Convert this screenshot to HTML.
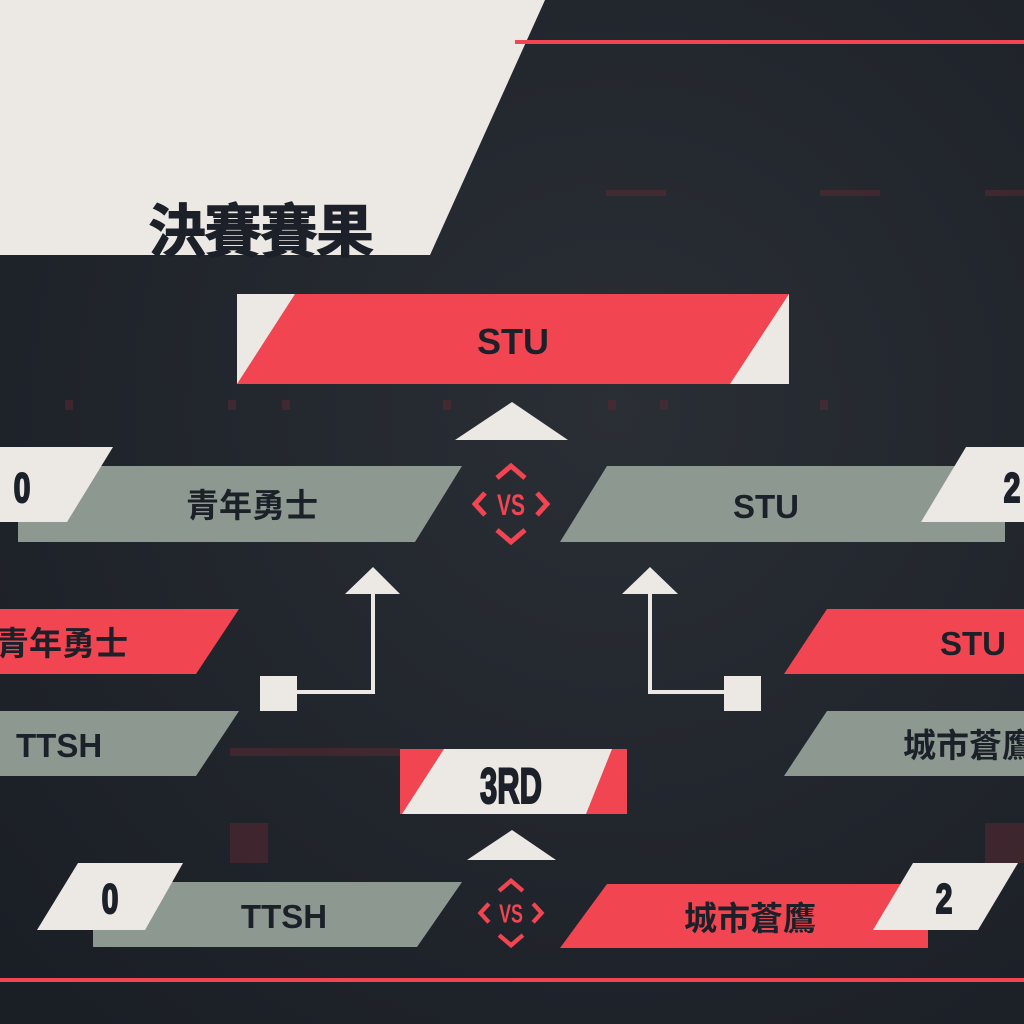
<!DOCTYPE html>
<html><head><meta charset="utf-8"><style>
html,body{margin:0;padding:0;background:#1c2028;}
svg{display:block}
text{font-family:"Liberation Sans","Noto Sans CJK TC",sans-serif;font-weight:bold;fill:#1c2028}
.num{stroke:#1c2028;stroke-width:2}
</style></head><body>
<svg width="1024" height="1024" viewBox="0 0 1024 1024" xmlns="http://www.w3.org/2000/svg">
<defs>
<radialGradient id="g" cx="0.6" cy="0.4" r="0.8"><stop offset="0" stop-color="#2a2e35"/><stop offset="1" stop-color="#1a1e25"/></radialGradient>
<g id="vs">
<path d="M-14,-26 L0,-38 L14,-26" fill="none" stroke="#f24552" stroke-width="5"/>
<path d="M-14,26 L0,38 L14,26" fill="none" stroke="#f24552" stroke-width="5"/>
<path d="M-26,-11 L-36,0 L-26,11" fill="none" stroke="#f24552" stroke-width="5"/>
<path d="M26,-11 L36,0 L26,11" fill="none" stroke="#f24552" stroke-width="5"/>
<text x="0" y="11" text-anchor="middle" font-size="30" style="fill:#f24552" transform="scale(0.7,1)">VS</text>
</g>
</defs>
<rect width="1024" height="1024" fill="url(#g)"/>
<g fill="#5a2a32" opacity="0.55">
<rect x="606" y="190" width="60" height="6"/><rect x="820" y="190" width="60" height="6"/><rect x="985" y="190" width="39" height="6"/>
<rect x="65" y="400" width="8" height="10"/><rect x="228" y="400" width="8" height="10"/><rect x="282" y="400" width="8" height="10"/><rect x="443" y="400" width="8" height="10"/><rect x="608" y="400" width="8" height="10"/><rect x="660" y="400" width="8" height="10"/><rect x="820" y="400" width="8" height="10"/>
<rect x="230" y="748" width="170" height="8"/><rect x="230" y="823" width="38" height="40"/><rect x="985" y="823" width="39" height="40"/>
</g>
<polygon points="0,0 545,0 430,255 0,255" fill="#ece9e4"/>
<rect x="515" y="40" width="509" height="4" fill="#f24552"/>
<rect x="0" y="978" width="1024" height="4" fill="#f24552"/>
<text x="148" y="252" font-size="58" letter-spacing="-2" style="stroke:#1c2028;stroke-width:1">決賽賽果</text>
<rect x="237" y="294" width="552" height="90" fill="#ece9e4"/>
<polygon points="295,294 789,294 730,384 237,384" fill="#f24552"/>
<text x="513" y="354" font-size="36" text-anchor="middle">STU</text>
<polygon points="512,402 568,440 455,440" fill="#ece9e4"/>
<polygon points="18,466 462,466 415,542 18,542" fill="#8d9990"/>
<polygon points="0,447 113,447 67,522 0,522" fill="#ece9e4"/>
<text class="num" x="22" y="502" font-size="42" text-anchor="middle" transform="translate(22,0) scale(0.72,1) translate(-22,0)">0</text>
<text x="252" y="517" font-size="33" text-anchor="middle">青年勇士</text>
<polygon points="607,466 1005,466 1005,542 560,542" fill="#8d9990"/>
<polygon points="966,447 1024,447 1024,522 921,522" fill="#ece9e4"/>
<text class="num" x="1012" y="502" font-size="42" text-anchor="middle" transform="translate(1012,0) scale(0.72,1) translate(-1012,0)">2</text>
<text x="766" y="518" font-size="33" text-anchor="middle">STU</text>
<use href="#vs" x="511" y="504"/>
<polygon points="0,609 239,609 196,674 0,674" fill="#f24552"/>
<text x="-4" y="655" font-size="33">青年勇士</text>
<polygon points="0,711 239,711 196,776 0,776" fill="#8d9990"/>
<text x="16" y="757" font-size="33">TTSH</text>
<polygon points="827,609 1024,609 1024,674 784,674" fill="#f24552"/>
<text x="940" y="655" font-size="33">STU</text>
<polygon points="827,711 1024,711 1024,776 784,776" fill="#8d9990"/>
<text x="903" y="757" font-size="33">城市蒼鷹</text>
<rect x="260" y="676" width="37" height="35" fill="#ece9e4"/>
<polyline points="297,692 373,692 373,590" fill="none" stroke="#ece9e4" stroke-width="4"/>
<polygon points="373,567 400,594 345,594" fill="#ece9e4"/>
<rect x="724" y="676" width="37" height="35" fill="#ece9e4"/>
<polyline points="724,692 650,692 650,590" fill="none" stroke="#ece9e4" stroke-width="4"/>
<polygon points="650,567 678,594 622,594" fill="#ece9e4"/>
<rect x="400" y="749" width="227" height="65" fill="#f24552"/>
<polygon points="444,749 612,749 586,814 402,814" fill="#ece9e4"/>
<text class="num" x="511" y="803" font-size="50" text-anchor="middle" transform="translate(511,0) scale(0.62,1) translate(-511,0)">3RD</text>
<polygon points="512,830 556,860 467,860" fill="#ece9e4"/>
<polygon points="93,882 462,882 417,947 93,947" fill="#8d9990"/>
<polygon points="78,863 183,863 145,930 37,930" fill="#ece9e4"/>
<text class="num" x="110" y="913" font-size="42" text-anchor="middle" transform="translate(110,0) scale(0.72,1) translate(-110,0)">0</text>
<text x="284" y="928" font-size="33" text-anchor="middle">TTSH</text>
<polygon points="607,884 928,884 928,948 560,948" fill="#f24552"/>
<polygon points="913,863 1018,863 978,930 873,930" fill="#ece9e4"/>
<text class="num" x="944" y="913" font-size="42" text-anchor="middle" transform="translate(944,0) scale(0.72,1) translate(-944,0)">2</text>
<text x="750" y="930" font-size="33" text-anchor="middle">城市蒼鷹</text>
<use href="#vs" x="511" y="913" transform="translate(511,913) scale(0.85) translate(-511,-913)"/>
</svg>
</body></html>
